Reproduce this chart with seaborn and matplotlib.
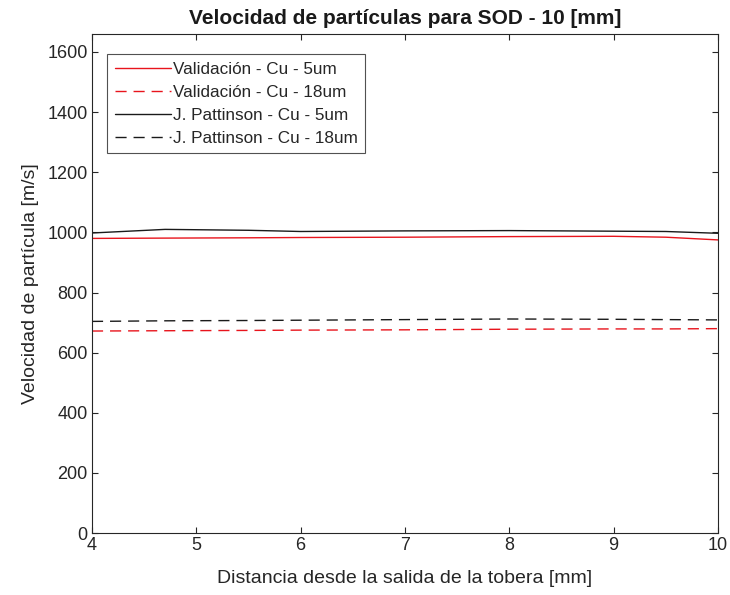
import matplotlib
matplotlib.use("Agg")
import matplotlib.pyplot as plt
import seaborn as sns
import pandas as pd

x_vals = [4.0, 4.7, 5.5, 6.0, 7.0, 8.0, 9.0, 9.5, 10.0]
val_5um = [980, 981, 982, 983, 984, 986, 987, 984, 975]
val_18um = [672, 673, 674, 675, 676, 678, 679, 679, 680]
pat_5um = [998, 1010, 1007, 1003, 1005, 1006, 1004, 1003, 997]
pat_18um = [704, 706, 707, 708, 710, 712, 711, 710, 709]
labels = ["Validación - Cu - 5um", "Validación - Cu - 18um",
          "J. Pattinson - Cu - 5um", "J. Pattinson - Cu - 18um"]

sns.set_style("white")
plt.rcParams['font.family'] = ['Liberation Sans', 'DejaVu Sans']

fig = plt.figure(figsize=(7.3, 5.95), dpi=100)
ax = fig.add_axes([0.126, 0.104, 0.8576, 0.839])

series = [(val_5um, '#e8141c', False), (val_18um, '#e8141c', True),
          (pat_5um, '#1a1a1a', False), (pat_18um, '#1a1a1a', True)]
for (vals, c, dashed), lab in zip(series, labels):
    df = pd.DataFrame({'x': x_vals, 'y': vals})
    n0 = len(ax.lines)
    sns.lineplot(data=df, x='x', y='y', ax=ax, color=c,
                 linewidth=1.0, label=lab, legend=False)
    if dashed:
        ax.lines[n0].set_dashes((8, 5))

ax.set_xlim(4, 10)
ax.set_ylim(0, 1660)
ax.set_xticks([4, 5, 6, 7, 8, 9, 10])
ax.set_yticks(range(0, 1601, 200))
ax.tick_params(direction='in', length=4, labelsize=13, colors='#262626',
               top=True, right=True, bottom=True, left=True, pad=3)
for s in ax.spines.values():
    s.set_color('#262626')
    s.set_linewidth(0.8)
ax.set_xlabel("Distancia desde la salida de la tobera [mm]", fontsize=14,
              color='#262626', labelpad=11)
ax.set_ylabel("Velocidad de partícula [m/s]", fontsize=14, color='#262626',
              labelpad=6)
ax.set_title("Velocidad de partículas para SOD - 10 [mm]", fontsize=15,
             fontweight='bold', color='#1a1a1a', pad=7)
leg = ax.legend(handles=ax.lines, labels=labels, loc='upper left',
                bbox_to_anchor=(0.024, 0.96), fontsize=12.3,
                frameon=True, fancybox=False, edgecolor='#262626',
                handlelength=3.3, handletextpad=0.1, borderpad=0.45,
                labelspacing=0.47, borderaxespad=0)
leg.get_frame().set_linewidth(0.8)
fig.savefig("out.png", dpi=100)
